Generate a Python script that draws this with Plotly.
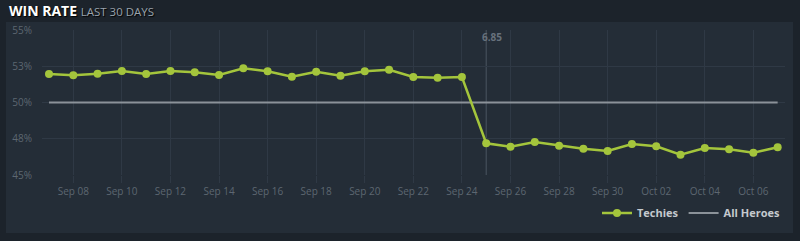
import plotly.graph_objects as go

dates = ["2015-09-07", "2015-09-08", "2015-09-09", "2015-09-10", "2015-09-11", "2015-09-12",
         "2015-09-13", "2015-09-14", "2015-09-15", "2015-09-16", "2015-09-17", "2015-09-18",
         "2015-09-19", "2015-09-20", "2015-09-21", "2015-09-22", "2015-09-23", "2015-09-24",
         "2015-09-25", "2015-09-26", "2015-09-27", "2015-09-28", "2015-09-29", "2015-09-30",
         "2015-10-01", "2015-10-02", "2015-10-03", "2015-10-04", "2015-10-05", "2015-10-06",
         "2015-10-07"]
techies = [51.97, 51.88, 51.99, 52.17, 51.97, 52.17, 52.08, 51.90, 52.36, 52.15, 51.78, 52.12,
           51.85, 52.15, 52.26, 51.76, 51.71, 51.76, 47.19, 46.95, 47.28, 47.02, 46.81, 46.66,
           47.14, 46.98, 46.40, 46.86, 46.77, 46.54, 46.91]
all_heroes = [50.0, 50.0, 50.0, 50.0, 50.0, 50.0, 50.0, 50.0, 50.0, 50.0, 50.0, 50.0, 50.0,
              50.0, 50.0, 50.0, 50.0, 50.0, 50.0, 50.0, 50.0, 50.0, 50.0, 50.0, 50.0, 50.0,
              50.0, 50.0, 50.0, 50.0, 50.0]
y_tickvals = [45, 47.5, 50, 52.5, 55]
y_ticktext = ["45%", "48%", "50%", "53%", "55%"]
x_tickvals = ["2015-09-08", "2015-09-10", "2015-09-12", "2015-09-14", "2015-09-16",
              "2015-09-18", "2015-09-20", "2015-09-22", "2015-09-24", "2015-09-26",
              "2015-09-28", "2015-09-30", "2015-10-02", "2015-10-04", "2015-10-06"]
patch_date = "2015-09-25"
patch_label = "6.85"

PAGE = "#1c232b"
PANEL = "#242d37"
GRID = "#2f3945"
TICK = "#5d6771"
GREEN = "#a4c53c"
GRAY = "#8b9299"
FONT = "Open Sans"

fig = go.Figure()
fig.add_trace(go.Scatter(x=dates, y=all_heroes, name="All Heroes", mode="lines",
                         line=dict(color=GRAY, width=2), hoverinfo="skip"))
fig.add_trace(go.Scatter(x=dates, y=techies, name="Techies", mode="lines+markers",
                         line=dict(color=GREEN, width=2.5),
                         marker=dict(color=GREEN, size=8)))

# panel background
fig.add_shape(type="rect", xref="paper", yref="paper",
              x0=(6 - 42) / 743, x1=(793 - 42) / 743,
              y0=(175 - 233) / 145, y1=(175 - 22) / 145,
              fillcolor=PANEL, line=dict(width=0), layer="below")
# patch line
fig.add_shape(type="line", xref="x", yref="paper", x0=patch_date, x1=patch_date,
              y0=0, y1=1, line=dict(color="#4a5460", width=1), layer="below")
fig.add_annotation(x=patch_date, xref="x", y=1, yref="paper", yanchor="top",
                   xanchor="center", xshift=6, yshift=2, text="<b>" + patch_label + "</b>",
                   showarrow=False, font=dict(family=FONT, size=10, color="#67717c"))
# title
fig.add_annotation(xref="paper", yref="paper", x=(7 - 42) / 743, y=(175 - 11) / 145,
                   xanchor="left", yanchor="middle", showarrow=False,
                   text="<b>WIN RATE</b> <span style='font-size:11.5px;color:#9aa3ac'>LAST 30 DAYS</span>",
                   font=dict(family=FONT, size=14, color="#ffffff", shadow="1px 1px 1px #000"))

fig.update_layout(
    width=800, height=241,
    margin=dict(l=42, r=15, t=30, b=66),
    paper_bgcolor=PAGE, plot_bgcolor=PANEL,
    font=dict(family=FONT, size=10, color=TICK),
    showlegend=True,
    legend=dict(orientation="h", x=1.0, xanchor="right", y=(175 - 213) / 145,
                yanchor="middle", traceorder="reversed", itemwidth=30,
                font=dict(family=FONT, size=11, color="#c4c9ce", weight="bold"),
                bgcolor="rgba(0,0,0,0)"),
    xaxis=dict(type="date", range=["2015-09-06 17:05", "2015-10-07 07:15"],
               tickvals=x_tickvals, tickformat="%b %d", showgrid=True, gridcolor=GRID,
               gridwidth=1, zeroline=False, showline=False, ticks="outside", ticklen=7,
               tickcolor=GRID, tickfont=dict(family=FONT, size=10, color=TICK)),
    yaxis=dict(range=[45, 55], tickvals=y_tickvals, ticktext=y_ticktext, showgrid=True,
               gridcolor=GRID, gridwidth=1, zeroline=False, showline=False,
               ticks="", ticklabelstandoff=9,
               tickfont=dict(family=FONT, size=10, color=TICK)),
    hovermode=False,
)

fig.write_html("out.html")
